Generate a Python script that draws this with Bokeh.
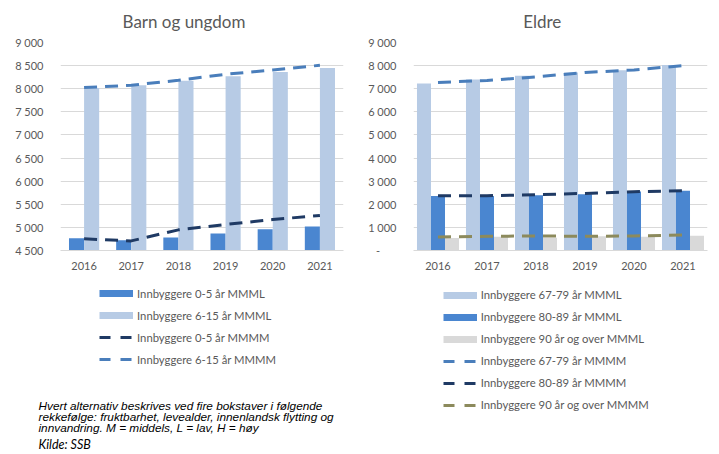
from bokeh.plotting import figure
from bokeh.models import (FactorRange, Range1d, FixedTicker, Legend, LegendItem, Label,
                          ColumnDataSource)
from bokeh.transform import dodge
from bokeh.layouts import row, column
from bokeh.embed import file_html
from bokeh.resources import INLINE

# ---------------- data ----------------
years = ["2016", "2017", "2018", "2019", "2020", "2021"]

# Barn og ungdom
barn_0_5_mmml = [4766, 4723, 4780, 4867, 4961, 5019]
barn_6_15_mmml = [8017, 8075, 8170, 8270, 8360, 8450]
barn_0_5_mmmm = [4752, 4708, 4947, 5062, 5170, 5257]
barn_6_15_mmmm = [8025, 8075, 8183, 8313, 8406, 8507]

left_ticks = [4500, 5000, 5500, 6000, 6500, 7000, 7500, 8000, 8500, 9000]
left_tick_labels = ["4 500", "5 000", "5 500", "6 000", "6 500", "7 000", "7 500",
                    "8 000", "8 500", "9 000"]

# Eldre
eldre_67_79_mmml = [7229, 7400, 7557, 7700, 7800, 8030]
eldre_80_89_mmml = [2357, 2357, 2386, 2430, 2557, 2586]
eldre_90_mmml = [543, 600, 557, 614, 600, 643]
eldre_67_79_mmmm = [7271, 7357, 7514, 7700, 7814, 8000]
eldre_80_89_mmmm = [2371, 2371, 2414, 2471, 2543, 2586]
eldre_90_mmmm = [586, 614, 629, 614, 629, 671]

right_ticks = [0, 1000, 2000, 3000, 4000, 5000, 6000, 7000, 8000, 9000]
right_tick_labels = ["-\u2002\u2002\u2002", "1 000", "2 000", "3 000", "4 000", "5 000",
                     "6 000", "7 000", "8 000", "9 000"]

left_title = "Barn og ungdom"
right_title = "Eldre"
left_labels = ["Innbyggere 0-5 år MMML", "Innbyggere 6-15 år MMML",
               "Innbyggere 0-5 år MMMM", "Innbyggere 6-15 år MMMM"]
right_labels = ["Innbyggere 67-79 år MMML", "Innbyggere 80-89 år MMML",
                "Innbyggere 90 år og over MMML", "Innbyggere 67-79 år MMMM",
                "Innbyggere 80-89 år MMMM", "Innbyggere 90 år og over MMMM"]
footnote_lines = ["Hvert alternativ beskrives ved fire bokstaver i følgende",
                  "rekkefølge: fruktbarhet, levealder, innenlandsk flytting og",
                  "innvandring. M = middels, L = lav, H = høy"]
source_line = "Kilde: SSB"

# ---------------- style ----------------
BAR_DARK = "#4A86D0"
BAR_LIGHT = "#B7CBE5"
BAR_GRAY = "#D9D9D9"
LINE_NAVY = "#1F3A64"
LINE_MID = "#4A7EBB"
LINE_OLIVE = "#8C8A5C"
GRID = "#D9D9D9"
TEXT = "#595959"
FONT = "Lato"
DASH = "13 8"

W = 719
TITLE_H = 34
CHART_H = 246
BOTTOM_H = 454 - TITLE_H - CHART_H
NAN = float("nan")


def blank_fig(width, height):
    p = figure(width=width, height=height, x_range=Range1d(0, 1), y_range=Range1d(0, 1),
               output_backend="svg", toolbar_location=None,
               x_axis_location=None, y_axis_location=None,
               min_border=0, min_border_left=0, min_border_right=0,
               min_border_top=0, min_border_bottom=0)
    p.outline_line_color = None
    p.grid.visible = False
    p.background_fill_color = "white"
    p.border_fill_color = "white"
    return p


def chart_fig(width, bl, br, bt, bb, height, yr, ticks, tick_labels):
    p = figure(width=width, height=height, x_range=FactorRange(*years), y_range=yr,
               output_backend="svg", toolbar_location=None,
               min_border_left=bl, min_border_right=br, min_border_top=bt,
               min_border_bottom=bb)
    p.outline_line_color = None
    p.background_fill_color = "white"
    p.border_fill_color = "white"
    p.xgrid.grid_line_color = None
    p.ygrid.grid_line_color = GRID
    p.ygrid.ticker = FixedTicker(ticks=ticks)
    p.yaxis.ticker = FixedTicker(ticks=ticks)
    p.yaxis.major_label_overrides = {t: l for t, l in zip(ticks, tick_labels)}
    for ax in (p.xaxis, p.yaxis):
        ax.major_tick_line_color = None
        ax.minor_tick_line_color = None
        ax.major_label_text_font = FONT
        ax.major_label_text_font_size = "11px"
        ax.major_label_text_color = TEXT
    p.yaxis.axis_line_color = None
    p.yaxis.major_label_standoff = 11
    p.xaxis.axis_line_color = GRID
    p.xaxis.major_label_standoff = 5
    return p


def legend_for(p, entries, x, y):
    items = []
    for label, color, width, dash in entries:
        # legend key only: a single NaN point draws nothing in the plot
        r = p.line(x=[NAN], y=[NAN], line_color=color, line_width=width, line_dash=dash,
                   line_cap="butt")
        items.append(LegendItem(label=label, renderers=[r]))
    lg = Legend(items=items, location=(x, y), orientation="vertical",
                glyph_width=34, glyph_height=20, label_height=20, spacing=2,
                padding=0, margin=0, label_standoff=4, border_line_color=None,
                background_fill_alpha=0, label_text_font=FONT,
                label_text_font_size="11.3px", label_text_color=TEXT)
    p.add_layout(lg, "center")


# ---------------- titles ----------------
tf = blank_fig(W, TITLE_H)
for txt, cx in ((left_title, 183.5), (right_title, 541.7)):
    tf.add_layout(Label(x=cx, y=TITLE_H - 21, x_units="screen", y_units="screen", text=txt,
                        text_align="center", text_baseline="alphabetic", text_font=FONT,
                        text_font_size="17px", text_color=TEXT))

# ---------------- left chart ----------------
pl = chart_fig(360, 60, 17, 42 - TITLE_H, 30, CHART_H, Range1d(4500, 9000), left_ticks,
               left_tick_labels)
src_l = ColumnDataSource(dict(year=years, a=barn_0_5_mmml, b=barn_6_15_mmml,
                              c=barn_0_5_mmmm, d=barn_6_15_mmmm))
pl.vbar(x=dodge("year", -0.16, range=pl.x_range), top="a", bottom=4500, width=0.32,
        source=src_l, fill_color=BAR_DARK, line_color=None)
pl.vbar(x=dodge("year", 0.16, range=pl.x_range), top="b", bottom=4500, width=0.32,
        source=src_l, fill_color=BAR_LIGHT, line_color=None)
pl.line(x="year", y="c", source=src_l, line_color=LINE_NAVY, line_width=3, line_dash=DASH)
pl.line(x="year", y="d", source=src_l, line_color=LINE_MID, line_width=3, line_dash=DASH)

# ---------------- right chart ----------------
pr = chart_fig(359, 53, 12, 42 - TITLE_H, 28, CHART_H, Range1d(0, 9000), right_ticks,
               right_tick_labels)
src_r = ColumnDataSource(dict(year=years, a=eldre_67_79_mmml, b=eldre_80_89_mmml,
                              c=eldre_90_mmml, d=eldre_67_79_mmmm, e=eldre_80_89_mmmm,
                              f=eldre_90_mmmm))
bw = 0.286
pr.vbar(x=dodge("year", -bw, range=pr.x_range), top="a", width=bw, source=src_r,
        fill_color=BAR_LIGHT, line_color=None)
pr.vbar(x=dodge("year", 0, range=pr.x_range), top="b", width=bw, source=src_r,
        fill_color=BAR_DARK, line_color=None)
pr.vbar(x=dodge("year", bw, range=pr.x_range), top="c", width=bw, source=src_r,
        fill_color=BAR_GRAY, line_color=None)
pr.line(x="year", y="d", source=src_r, line_color=LINE_MID, line_width=3, line_dash=DASH)
pr.line(x="year", y="e", source=src_r, line_color=LINE_NAVY, line_width=3, line_dash=DASH)
pr.line(x="year", y="f", source=src_r, line_color=LINE_OLIVE, line_width=3, line_dash=DASH)

# ---------------- legends and footnote ----------------
bf = blank_fig(W, BOTTOM_H)
legend_for(bf, [(left_labels[0], BAR_DARK, 7, "solid"),
                (left_labels[1], BAR_LIGHT, 7, "solid"),
                (left_labels[2], LINE_NAVY, 3, "11 10"),
                (left_labels[3], LINE_MID, 3, "11 10")], 99, 85)
legend_for(bf, [(right_labels[0], BAR_LIGHT, 7, "solid"),
                (right_labels[1], BAR_DARK, 7, "solid"),
                (right_labels[2], BAR_GRAY, 7, "solid"),
                (right_labels[3], LINE_MID, 3, "11 10"),
                (right_labels[4], LINE_NAVY, 3, "11 10"),
                (right_labels[5], LINE_OLIVE, 3, "11 10")], 442.7, 39.5)
for i, line in enumerate(footnote_lines):
    bf.add_layout(Label(x=38, y=454 - (405 + 11.3 * i), x_units="screen", y_units="screen",
                        text=line, text_align="left", text_baseline="alphabetic",
                        text_font="Liberation Sans", text_font_style="italic",
                        text_font_size="11.8px", text_color="#000000"))
bf.add_layout(Label(x=38, y=454 - 443.5, x_units="screen", y_units="screen",
                    text=source_line, text_align="left", text_baseline="alphabetic",
                    text_font=FONT, text_font_style="italic", text_font_size="12.5px",
                    text_color="#000000"))

layout = column(tf, row(pl, pr, spacing=0), bf, spacing=0)
open("out.html", "w").write(file_html(layout, INLINE))
